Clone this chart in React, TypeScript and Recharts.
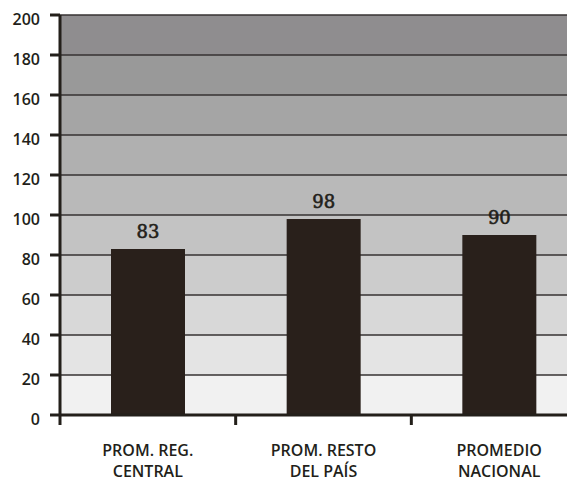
import React from 'react';
import { BarChart, Bar, XAxis, YAxis, CartesianGrid, LabelList } from 'recharts';

const categoryLines = [
  ['PROM. REG.', 'CENTRAL'],
  ['PROM. RESTO', 'DEL PAÍS'],
  ['PROMEDIO', 'NACIONAL'],
];
const categories = categoryLines.map((l) => l.join(' '));
const values = [83, 98, 90];
const yTicks = [0, 20, 40, 60, 80, 100, 120, 140, 160, 180, 200];
// band fills from top (180-200) down to bottom (0-20)
const bandFills = [
  '#8f8d8f', '#999999', '#a5a5a5', '#b0b0b0', '#b9b9b9',
  '#c3c3c3', '#cccccc', '#d8d8d8', '#e4e4e4', '#f1f1f1',
];

const data = categories.map((name, i) => ({ name, value: values[i] }));

const INK = '#231f1a';

const CategoryTick = (props: any) => {
  const { x, y, payload, index } = props;
  const half = payload && payload.offset ? payload.offset : 87.75;
  const lines = categoryLines[index] || [String(payload.value)];
  return (
    <g>
      {index === 0 && (
        <line x1={x - half} x2={x - half} y1={y} y2={y + 10} stroke={INK} strokeWidth={3} />
      )}
      <line x1={x + half} x2={x + half} y1={y} y2={y + 10} stroke={INK} strokeWidth={3} />
      {lines.map((t: string, i: number) => (
        <text
          key={i}
          x={x}
          y={y + 41 + i * 21}
          textAnchor="middle"
          fill={INK}
          fontFamily="'Open Sans', sans-serif"
          fontWeight={600}
          fontSize={16}
        >
          {t}
        </text>
      ))}
    </g>
  );
};

const App: React.FC = () => {
  return (
    <div style={{ width: 567, height: 474, overflow: 'hidden' }}>
      <BarChart
        width={579}
        height={474}
        data={data}
        margin={{ top: 7, right: 0, bottom: 0, left: 0 }}
        barSize={74}
      >
        <CartesianGrid
          vertical={false}
          horizontalFill={bandFills}
          stroke="#363232"
          strokeWidth={1.5}
          fillOpacity={1}
        />
        <XAxis
          dataKey="name"
          height={67}
          interval={0}
          tickLine={false}
          tickSize={0}
          tickMargin={0}
          axisLine={{ stroke: INK, strokeWidth: 3 }}
          tick={<CategoryTick />}
        />
        <YAxis
          width={52}
          domain={[0, 200]}
          ticks={yTicks}
          interval={0}
          tickSize={10}
          tickMargin={10}
          axisLine={{ stroke: INK, strokeWidth: 3 }}
          tickLine={{ stroke: INK, strokeWidth: 3 }}
          tick={{
            fill: INK,
            fontFamily: "'Open Sans', sans-serif",
            fontWeight: 600,
            fontSize: 16,
            dy: 4,
          }}
        />
        <Bar dataKey="value" fill="#29201b" isAnimationActive={false}>
          <LabelList
            dataKey="value"
            position="top"
            offset={11}
            fill={INK}
            stroke={INK}
            strokeWidth={0.6}
            fontFamily="'DejaVu Serif', serif"
            fontSize={18}
          />
        </Bar>
      </BarChart>
    </div>
  );
};

export default App;
